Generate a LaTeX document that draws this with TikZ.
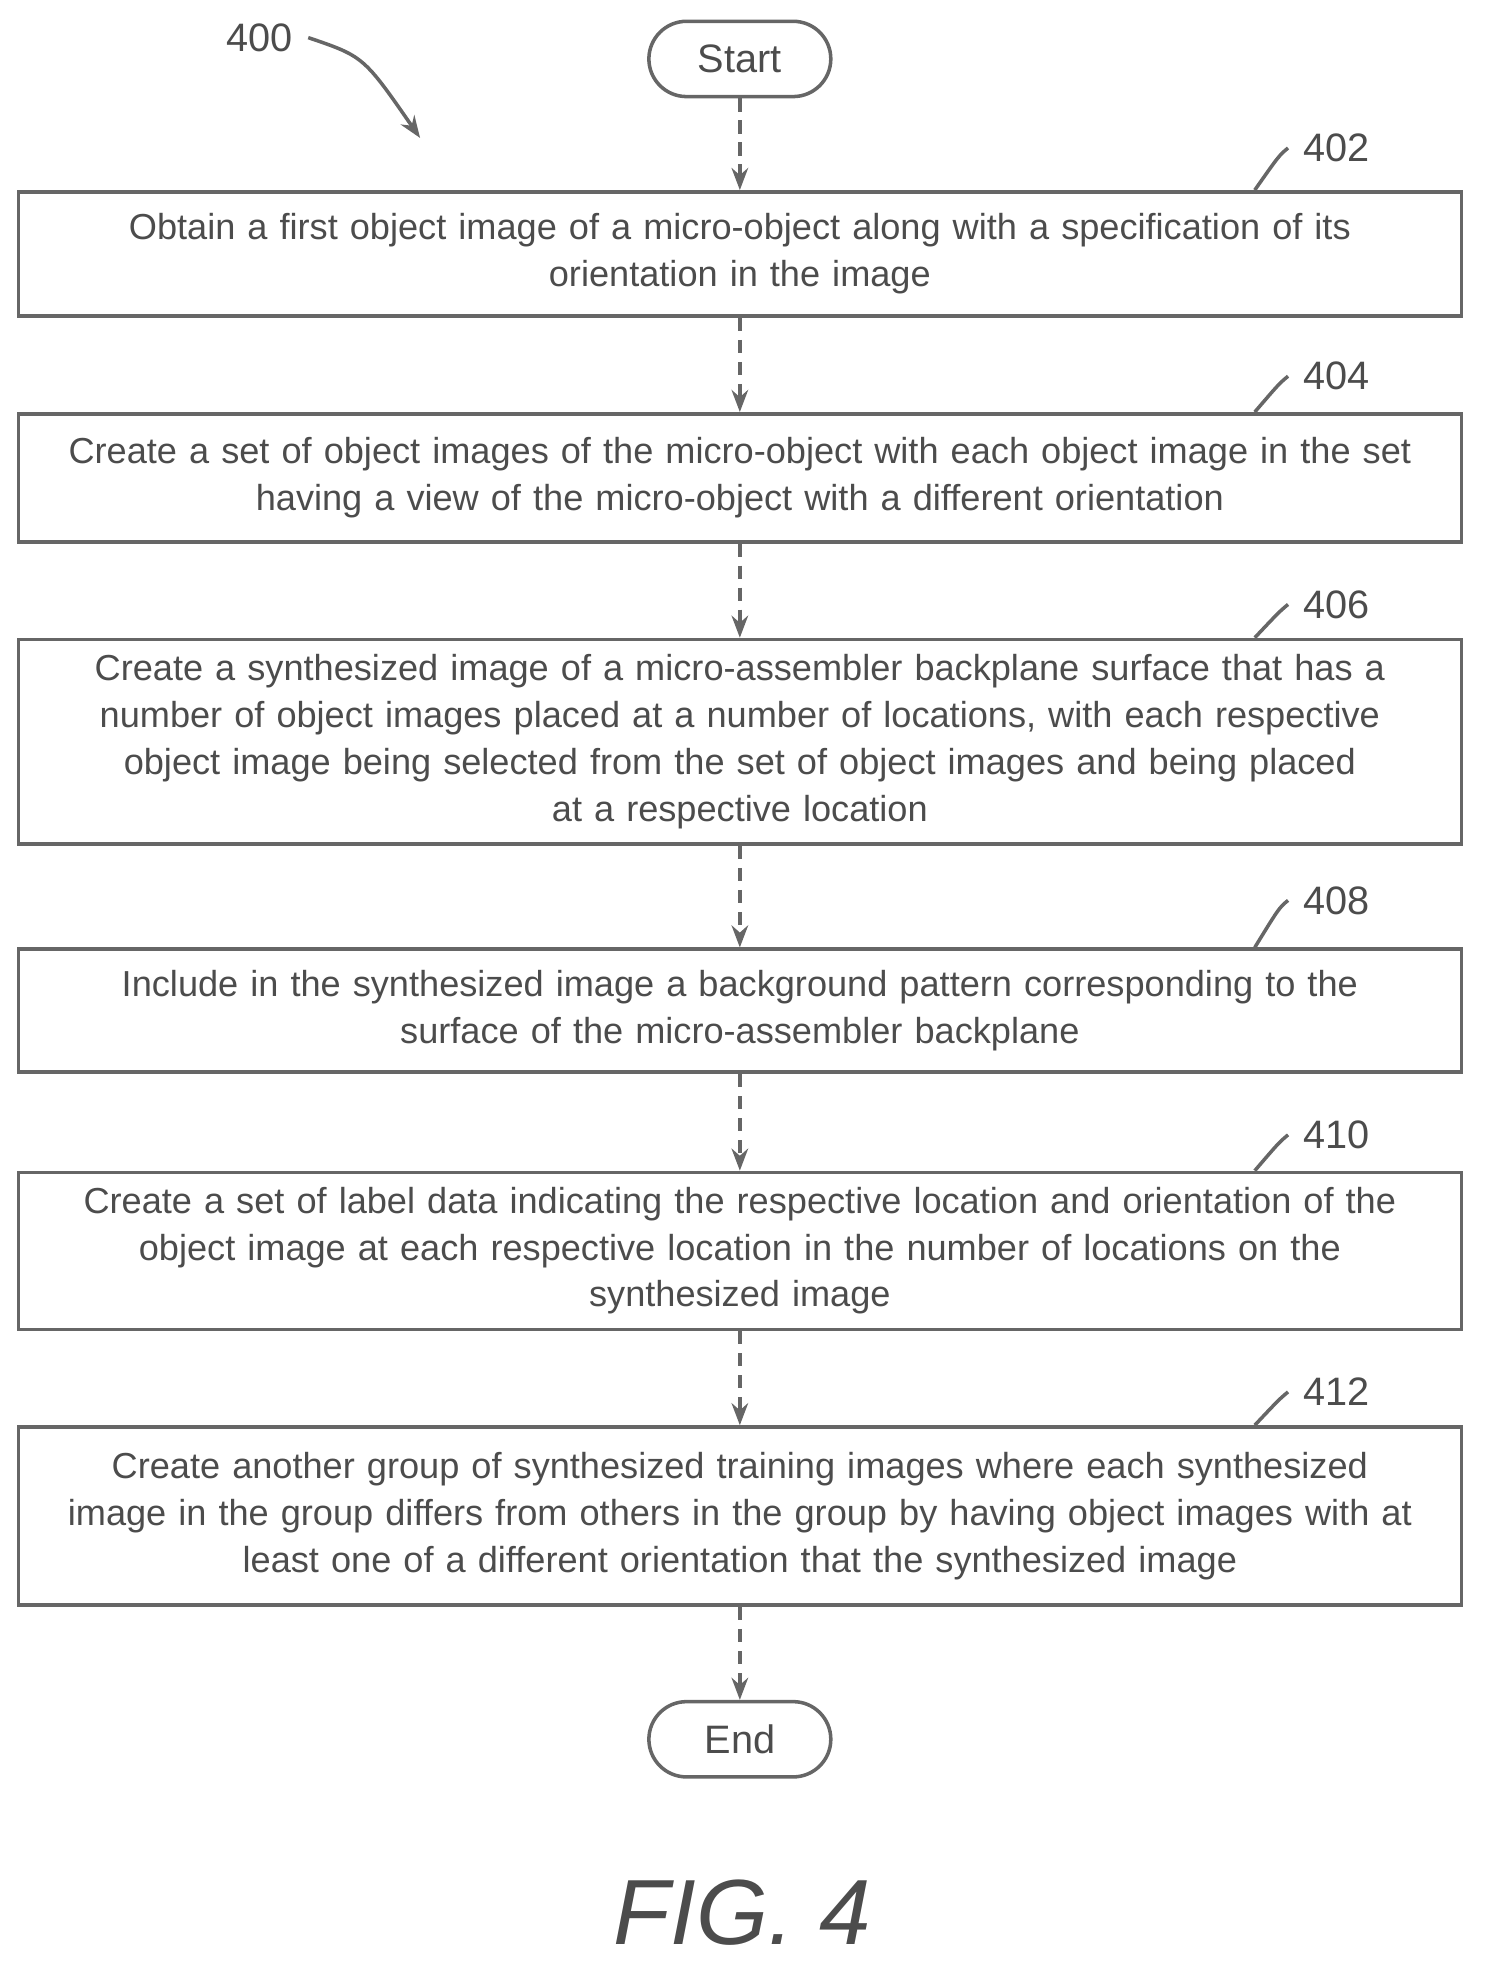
\documentclass[tikz,border=0pt]{standalone}
\usepackage{fontspec}
\setmainfont{Liberation Sans}
\usetikzlibrary{arrows.meta,calc}

\begin{document}
\begin{tikzpicture}[x=0.01cm,y=-0.01cm,
  every node/.style={text=black!70, font=\fontsize{8.2}{10.6}\selectfont},
  stage/.style={draw=black!60, thick, minimum width=11.5cm, text width=11.3cm, align=center, inner sep=0pt},
  term/.style={draw=black!60, thick, rounded corners=0.3cm, minimum width=1.45cm, minimum height=0.6cm, font=\fontsize{9}{10}\selectfont},
  flow/.style={draw=black!60, thick, densely dashed, -{Stealth[length=5pt]}},
  lead/.style={draw=black!60, thick}]

\useasboundingbox (0,0) rectangle (1187,1575);

\node [term] (start) at (590,47) {Start};

\node [stage, minimum height=0.99cm] (s402) at (590,202.5)
  {Obtain a first object image of a micro-object along with a specification of its\\ orientation in the image};
\node [stage, minimum height=1.02cm] (s404) at (590,381)
  {Create a set of object images of the micro-object with each object image in the set\\ having a view of the micro-object with a different orientation};
\node [stage, minimum height=1.63cm] (s406) at (590,591.5)
  {Create a synthesized image of a micro-assembler backplane surface that has a\\ number of object images placed at a number of locations, with each respective\\ object image being selected from the set of object images and being placed\\ at a respective location};
\node [stage, minimum height=0.98cm] (s408) at (590,806)
  {Include in the synthesized image a background pattern corresponding to the\\ surface of the micro-assembler backplane};
\node [stage, minimum height=1.25cm] (s410) at (590,997.5)
  {Create a set of label data indicating the respective location and orientation of the\\ object image at each respective location in the number of locations on the\\ synthesized image};
\node [stage, minimum height=1.42cm] (s412) at (590,1209)
  {Create another group of synthesized training images where each synthesized\\ image in the group differs from others in the group by having object images with at\\ least one of a different orientation that the synthesized image};

\node [term] (end) at (590,1387) {End};

\draw [flow] (start) -- (s402);
\draw [flow] (s402) -- (s404);
\draw [flow] (s404) -- (s406);
\draw [flow] (s406) -- (s408);
\draw [flow] (s408) -- (s410);
\draw [flow] (s410) -- (s412);
\draw [flow] (s412) -- (end);

% reference numerals
\node (n400) at (207,30) {\fontsize{9}{10}\selectfont 400};
\draw [lead, -{Stealth[length=5pt]}] (n400.east) .. controls (290,45) .. (335,110);

\foreach \lbl/\bx/\y in {402/s402/118, 404/s404/300, 406/s406/482, 408/s408/718, 410/s410/905, 412/s412/1110} {
  \node (n\lbl) at (1066,\y) {\fontsize{9}{10}\selectfont \lbl};
  \draw [lead] (n\lbl.west) .. controls (1020,\y+6) .. ($(\bx.north west)!0.856!(\bx.north east)$);
}

\node (fig) at (592,1525) {\fontsize{21}{24}\selectfont\itshape FIG. 4};

\end{tikzpicture}
\end{document}
